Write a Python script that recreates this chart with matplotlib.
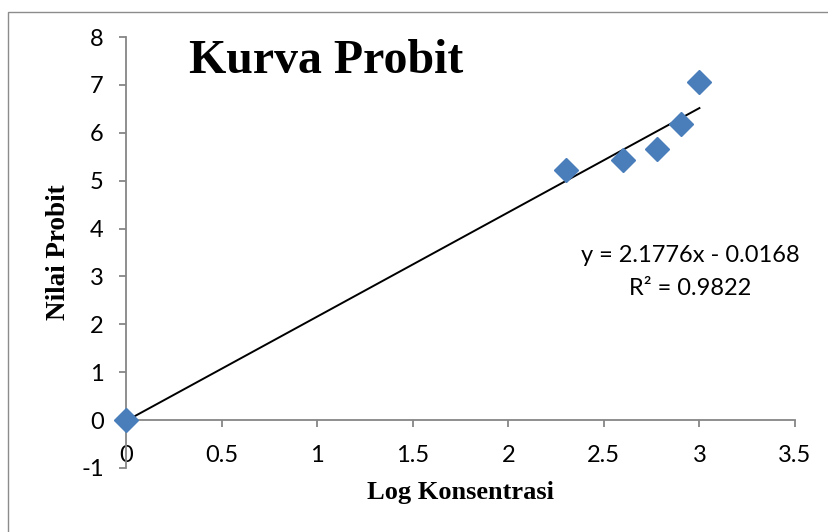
import matplotlib
matplotlib.use("Agg")
import matplotlib.pyplot as plt
from matplotlib.patches import Rectangle

plt.rcParams["axes.unicode_minus"] = False

# log10 of concentrations and the probit values
log_konsentrasi = [0, 2.301, 2.602, 2.778, 2.903, 3.0]
nilai_probit = [0, 5.22, 5.43, 5.66, 6.19, 7.06]

# linear trendline
slope = 2.1776
intercept = -0.0168
r2 = 0.9822
trend_x = [0, 3.0]

x_ticks = [0, 0.5, 1, 1.5, 2, 2.5, 3, 3.5]
y_ticks = [-1, 0, 1, 2, 3, 4, 5, 6, 7, 8]

fig = plt.figure(figsize=(8.29, 5.32), dpi=100)
fig.patch.set_facecolor("white")
fig.patches.append(Rectangle((8 / 829, -0.05), 1.0, 1 - 12 / 532 + 0.05,
                             transform=fig.transFigure, fill=False,
                             edgecolor="#8c8c8c", linewidth=1.0))

ax = fig.add_axes([126 / 829, 64 / 532, 669 / 829, 431 / 532])
ax.set_facecolor("none")

ax.plot(trend_x, [slope * v + intercept for v in trend_x], color="black", linewidth=1.4, zorder=2)
ax.plot(log_konsentrasi, nilai_probit, linestyle="none", marker="D", markersize=12,
        color="#4a7ebb", markeredgecolor="#4a7ebb", zorder=3, clip_on=False)

ax.set_xlim(0, 3.5)
ax.set_ylim(-1, 8)
ax.set_xticks(x_ticks)
ax.set_xticklabels(["0", "0.5", "1", "1.5", "2", "2.5", "3", "3.5"])
ax.set_yticks(y_ticks)

for side in ["top", "right"]:
    ax.spines[side].set_visible(False)
ax.spines["bottom"].set_position(("data", 0))
for side in ["left", "bottom"]:
    ax.spines[side].set_color("#868686")
    ax.spines[side].set_linewidth(1.3)

ax.tick_params(axis="both", direction="out", length=5, width=1.3, color="#868686",
               labelsize=17, labelcolor="black")
ax.tick_params(axis="x", pad=13)
ax.tick_params(axis="y", pad=11)
for lab in ax.get_xticklabels() + ax.get_yticklabels():
    lab.set_fontfamily("Lato")

ax.text(0.33, 7.5, "Kurva Probit", fontsize=34.5, fontweight="bold",
        fontfamily="Liberation Serif", va="center", ha="left")

ax.text(2.95, 3.43, "y = %.4fx - %.4f" % (slope, abs(intercept)), fontsize=17,
        fontfamily="Lato", ha="center", va="center")
ax.text(2.95, 2.74, "R² = %.4f" % r2, fontsize=17, fontfamily="Lato",
        ha="center", va="center")

fig.text(59 / 829, 1 - 252 / 532, "Nilai Probit", rotation=90, fontsize=19.5,
         fontweight="bold", fontfamily="Liberation Serif", ha="center", va="center")
fig.text(461 / 829, 1 - 492 / 532, "Log Konsentrasi", fontsize=19,
         fontweight="bold", fontfamily="Liberation Serif", ha="center", va="center")

fig.savefig("out.png", dpi=100)
